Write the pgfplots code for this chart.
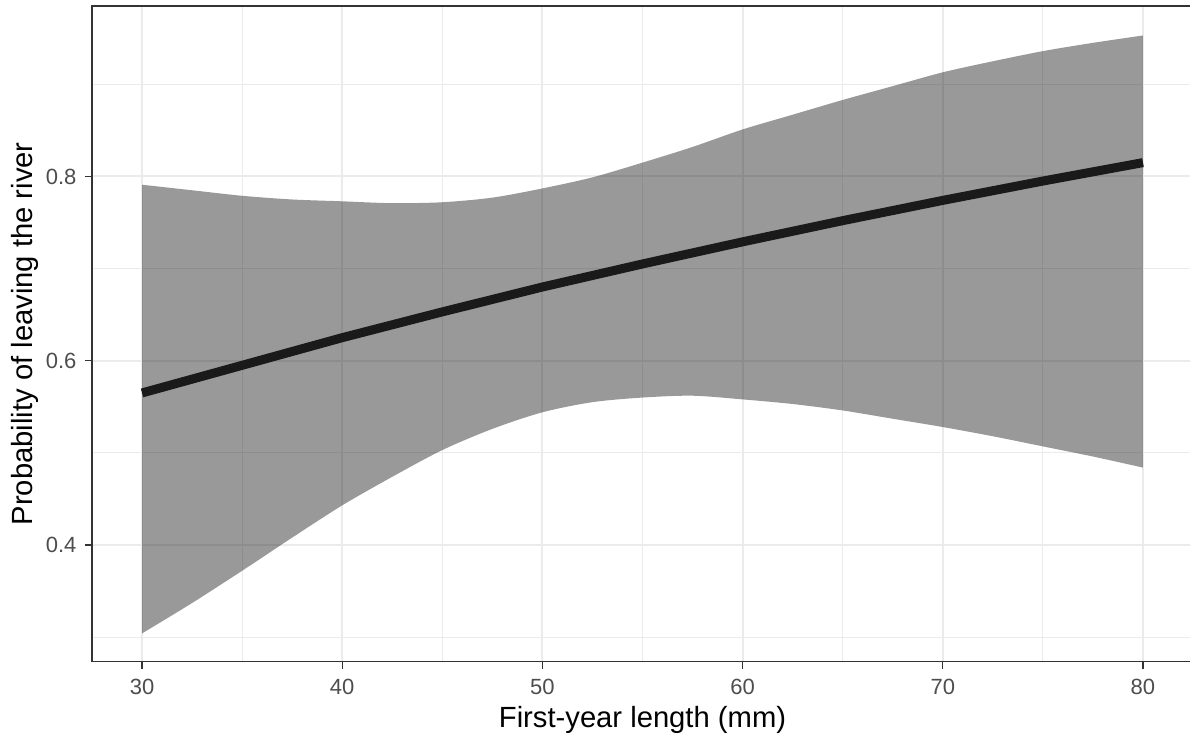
\documentclass[border=0pt]{standalone}
\usepackage{fontspec}
\setmainfont{Liberation Sans}
\usepackage{pgfplots}
\pgfplotsset{compat=1.18}
\usepgfplotslibrary{fillbetween}

\definecolor{gridc}{HTML}{EBEBEB}
\definecolor{framec}{HTML}{333333}
\definecolor{tickc}{HTML}{4D4D4D}
\definecolor{fitc}{HTML}{1A1A1A}

\begin{document}
\begin{tikzpicture}
\begin{axis}[
    width=550.5pt, height=327.75pt, scale only axis,
    xmin=27.5, xmax=82.5, ymin=0.2735, ymax=0.985,
    xtick={30,40,...,80}, minor xtick={35,45,55,65,75},
    ytick={0.4,0.6,0.8}, minor ytick={0.3,0.5,0.7,0.9},
    grid=both,
    major grid style={draw=gridc, line width=1pt},
    minor grid style={draw=gridc, line width=0.5pt},
    axis line style={draw=framec, line width=0.6pt},
    tick align=outside, tick pos=left,
    major tick length=3.5pt,
    major tick style={draw=framec, line width=0.6pt},
    minor tick style={draw=none},
    /pgf/number format/assume math mode=true,
    ticklabel style={font=\fontsize{11}{13}\selectfont, text=tickc},
    xticklabel style={yshift=-2pt},
    yticklabel style={xshift=-0.75pt, /pgf/number format/.cd, fixed, fixed zerofill, precision=1},
    label style={font=\fontsize{14.6}{17}\selectfont},
    xlabel={First-year length (mm)},
    ylabel={Probability of leaving the river},
    xlabel style={at={(axis description cs:0.5,0)}, anchor=base, yshift=-33pt},
    ylabel style={at={(axis description cs:-0.0536,0.5)}, anchor=base},
]

% upper confidence limit
\addplot[name path=upper, draw=none, smooth] coordinates {
    (30,0.791) (32.5,0.785) (35,0.779) (37.5,0.775) (40,0.773) (42.5,0.771)
    (45,0.772) (47.5,0.777) (50,0.787) (52.5,0.799) (55,0.815) (57.5,0.832)
    (60,0.851) (62.5,0.867) (65,0.883) (67.5,0.898) (70,0.913) (72.5,0.925)
    (75,0.936) (77.5,0.945) (80,0.953)
};
% lower confidence limit
\addplot[name path=lower, draw=none, smooth] coordinates {
    (30,0.304) (32.5,0.337) (35,0.372) (37.5,0.408) (40,0.443) (42.5,0.474)
    (45,0.503) (47.5,0.526) (50,0.544) (52.5,0.555) (55,0.560) (57.5,0.562)
    (60,0.558) (62.5,0.553) (65,0.546) (67.5,0.537) (70,0.528) (72.5,0.518)
    (75,0.507) (77.5,0.496) (80,0.484)
};
\addplot[fill=black, fill opacity=0.4, draw=none] fill between[of=upper and lower];

% fitted probability
\addplot[fitc, line width=4.5pt, line cap=butt] coordinates {
    (30,0.565) (35,0.595) (40,0.625) (45,0.653) (50,0.680) (55,0.705)
    (60,0.729) (65,0.752) (70,0.774) (75,0.795) (80,0.815)
};
\end{axis}
\pgfresetboundingbox
\useasboundingbox ([shift={(-46pt,-36.75pt)}]current axis.south west) rectangle ([shift={(-1.5pt,3pt)}]current axis.north east);
\end{tikzpicture}
\end{document}
